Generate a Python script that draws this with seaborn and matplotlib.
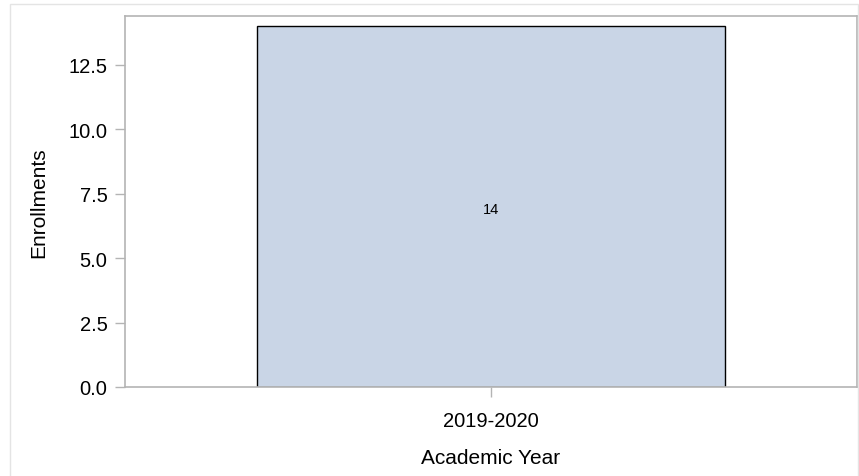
import matplotlib
matplotlib.use("Agg")
import matplotlib.pyplot as plt
import seaborn as sns
import pandas as pd
from matplotlib.patches import Rectangle

years = ["2019-2020"]
enrollments = [14]

df = pd.DataFrame({"Academic Year": years, "Enrollments": enrollments})

sns.set_theme(style="white")
plt.rcParams["font.family"] = ["Liberation Sans", "DejaVu Sans"]

fig = plt.figure(figsize=(8.59, 4.77), dpi=100)
ax = fig.add_axes([0.1455, 0.1866, 0.8522, 0.7778])

sns.barplot(data=df, x="Academic Year", y="Enrollments", color="#c9d5e6",
            saturation=1, edgecolor="black", linewidth=1, width=0.8, ax=ax)

# value label in the middle of the bar
for p in ax.patches:
    ax.annotate(f"{int(p.get_height())}",
                (p.get_x() + p.get_width() / 2, p.get_height() / 2),
                xytext=(0, -2), textcoords="offset points",
                ha="center", va="center", fontsize=10.5, color="black")

ax.set_xlim(-0.627, 0.627)
ax.set_ylim(0, 14.4)
ax.set_yticks([0, 2.5, 5, 7.5, 10, 12.5])
ax.set_yticklabels(["0.0", "2.5", "5.0", "7.5", "10.0", "12.5"])

for s in ax.spines.values():
    s.set_visible(True)
    s.set_color("#b4b4b4")
    s.set_linewidth(1.2)

ax.tick_params(axis="both", which="major", length=7.5, width=1, color="#b4b4b4",
               labelsize=14.5, labelcolor="black", bottom=True, left=True)
ax.tick_params(axis="y", pad=5)
ax.tick_params(axis="x", pad=10)
ax.set_xlabel("Academic Year", fontsize=15, labelpad=13, color="black")
ax.set_ylabel("Enrollments", fontsize=15, labelpad=15, color="black")

fig.patches.append(Rectangle((10 / 859, -0.01), 848 / 859, 1 - 5 / 477 + 0.01,
                             transform=fig.transFigure, fill=False,
                             edgecolor="#e4e4e4", linewidth=1, zorder=0))

fig.savefig("out.png", dpi=100)
